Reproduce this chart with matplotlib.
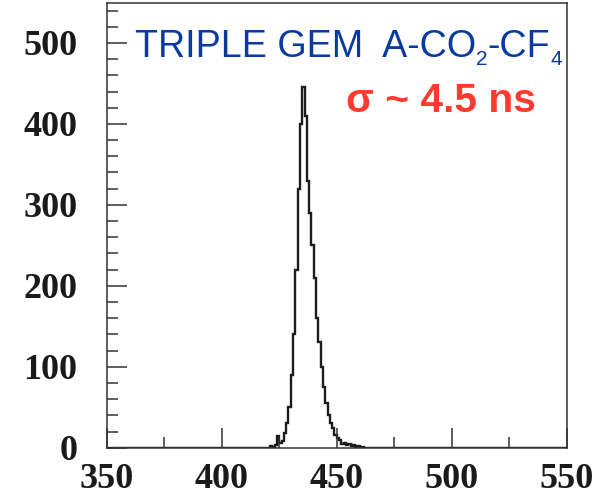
import numpy as np
from matplotlib import pyplot as plt
from matplotlib.ticker import MultipleLocator

# histogram of the timing spectrum, 1 ns bins (lower edges) and counts
bin_lo = np.arange(420, 462)
counts = [0, 2, 1, 3, 14, 6, 8, 18, 30, 50, 90, 140, 220, 320, 400,
          446, 410, 330, 290, 250, 210, 160, 130, 100, 75, 55, 40, 30,
          24, 16, 12, 9, 5, 6, 3, 4, 2, 3, 1, 2, 1, 1]

xticks = [350, 400, 450, 500, 550]
yticks = [0, 100, 200, 300, 400, 500]

title_txt = 'TRIPLE GEM  A-CO'
sigma_txt = '\u03c3 ~ 4.5 ns'

# full range 350-550 with empty bins outside the peak
edges = np.arange(350, 551)
vals = np.zeros(len(edges) - 1)
vals[bin_lo - 350] = counts

fig = plt.figure(figsize=(5.99, 4.96), dpi=100)
ax = fig.add_axes([106.7/599, 1-447.7/496, 460/599, 444.4/496])
ax.stairs(vals, edges, color='#1c1c1c', lw=1.7)

ax.set_xlim(350, 550)
ax.set_ylim(0, 549)
ax.set_xticks(xticks)
ax.set_yticks(yticks)
ax.xaxis.set_minor_locator(MultipleLocator(25))
ax.yaxis.set_minor_locator(MultipleLocator(20))
ax.tick_params(which='both', direction='in', top=False, right=False,
               width=1.1, color='#333333')
ax.tick_params(which='major', length=14.4)
ax.tick_params(which='minor', length=7.9)
ax.tick_params(axis='x', pad=11)
ax.tick_params(axis='y', pad=21)
for lab in ax.get_xticklabels() + ax.get_yticklabels():
    lab.set_family('Liberation Serif')
    lab.set_weight('bold')
    lab.set_fontsize(26)
    lab.set_color('#1a1a1a')
for sp in ax.spines.values():
    sp.set_color('#333333')
    sp.set_linewidth(1.1)

# blue label with subscripts built from pieces
blue = '#0b3a9e'
t1 = fig.text(135/599, 1-57.3/496, title_txt, fontsize=27.1, color=blue,
              family='Liberation Sans', va='baseline')
t2 = ax.annotate('2', xy=(1, 496-65), xycoords=(t1, 'figure pixels'),
                 fontsize=15, color=blue, family='Liberation Sans', va='baseline')
t3 = ax.annotate('-CF', xy=(1, 496-57.3), xycoords=(t2, 'figure pixels'),
                 fontsize=27.1, color=blue, family='Liberation Sans', va='baseline')
t4 = ax.annotate('4', xy=(1, 496-65), xycoords=(t3, 'figure pixels'),
                 fontsize=15, color=blue, family='Liberation Sans', va='baseline')

fig.text(345.7/599, 1-111.7/496, sigma_txt, fontsize=29.3, weight='bold',
         color='#ff3b2f', family='Liberation Sans', va='baseline')

fig.savefig('out.png', dpi=100)
